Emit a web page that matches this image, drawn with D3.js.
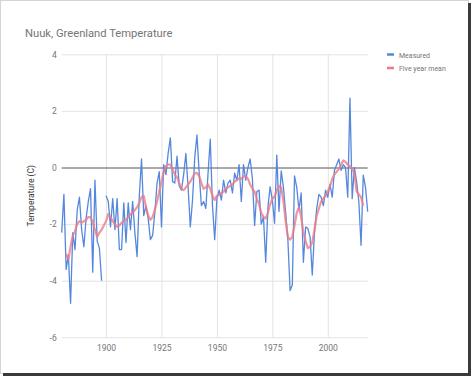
<!DOCTYPE html>
<html>
<head>
<meta charset="utf-8">
<script src="https://cdn.jsdelivr.net/npm/d3@7"></script>
<style>
  html, body { margin: 0; padding: 0; background: #fff; }
  svg { display: block; }
  text { font-family: Roboto, "Noto Sans", Arial, sans-serif; }
</style>
</head>
<body>
<svg id="chart" width="474" height="380"></svg>
<script>
// ---- data ----
const titleText = "Nuuk, Greenland Temperature";
const yAxisTitle = "Temperature (C)";
const seriesNames = ["Measured", "Five year mean"];
const measuredStartYear = 1880;
const measured = [
  -2.3, -0.95, -3.6, -3.1, -4.8, -2.3, -2.9, -1.5, -1.05, -2.2,
  -2.8, -1.8, -1.2, -0.75, -3.7, -0.45, -2.6, -2.85, -4.0, null,
  -1.0, -1.2, -2.1, -1.1, -2.2, -1.1, -2.9, -2.9, -1.25, -2.65,
  -1.25, -2.2, -1.2, -2.3, -3.15, -1.0, 0.3, -1.7, -1.35, -1.8,
  -2.55, -2.4, -1.6, -0.55, -0.15, -2.1, 0.1, -0.25, 0.5, 1.05,
  -0.5, -0.55, 0.4, -0.65, -0.8, -0.25, 0.5, -0.7, -2.1, -1.15,
  0.35, 1.15, -0.2, -1.35, -1.2, -1.45, -0.2, 1.0, -1.35, -2.55,
  -1.1, -0.8, -1.15, -0.45, -0.9, -0.55, -0.45, -0.9, -0.2, -0.45,
  0.1, -1.2, 0.1, -0.45, 0.0, 0.3, -0.4, -2.05, -0.85, -0.8,
  -2.0, -1.75, -3.35, -1.4, -0.68, -1.15, -1.97, 0.44, -1.55, -0.12,
  -0.7, -1.6, -2.55, -4.35, -4.15, -0.3, -0.7, -1.5, -0.9, -3.35,
  -2.1, -2.15, -2.45, -3.8, -2.3, -1.45, -0.95, -1.05, -1.35, -0.8,
  -1.05, -0.6, -1.05, -0.1, 0.1, 0.3, -0.1, 0.1, 0.0, -1.05,
  2.45, -1.1, 0.0, -0.5, -1.2, -2.75, -0.27, -0.7, -1.56
];
const meanStartYear = 1882;
const fiveYearMean = [
  -3.05, -3.25, -2.8, -2.4, -2.25, -2.0, -1.9, -1.95,
  -1.9, -1.85, -1.75, -1.75, -1.95, -2.2, -2.45, -2.3, -2.2, -2.05,
  -1.9, -1.65, -1.75, -1.9, -2.0, -2.1, -2.05, -1.95, -1.9, -1.85,
  -1.75, -1.65, -1.6, -1.5, -1.4, -1.25, -1.05, -1.0, -1.4, -1.7,
  -1.85, -1.75, -1.5, -1.2, -0.85, -0.5, -0.15, 0.05, 0.1, 0.1,
  -0.05, -0.25, -0.35, -0.55, -0.75, -0.8, -0.7, -0.6, -0.5, -0.35,
  -0.2, -0.2, -0.3, -0.55, -0.75, -0.7, -0.6, -0.75, -1.0, -1.15,
  -1.0, -0.97, -0.9, -0.85, -0.75, -0.7, -0.65, -0.6, -0.5, -0.45,
  -0.38, -0.4, -0.32, -0.3, -0.4, -0.6, -0.75, -0.85, -1.1, -1.3,
  -1.6, -1.75, -1.8, -1.6, -1.3, -1.1, -1.03, -0.8, -0.65, -0.7,
  -1.2, -1.9, -2.45, -2.55, -2.45, -2.05, -1.6, -1.4, -1.75, -2.3,
  -2.6, -2.85, -2.8, -2.65, -2.2, -1.7, -1.45, -1.2, -1.1, -1.0,
  -0.85, -0.65, -0.4, -0.25, -0.15, -0.05, 0.1, 0.25, 0.2, 0.1,
  0.05, -0.05, -0.2, -0.85, -0.95, -1.05, -1.35
];
const xTickYears = [1900, 1925, 1950, 1975, 2000];
const yTickValues = [-6, -4, -2, 0, 2, 4];
const xDomain = [1880, 2018];
const yDomain = [-6, 4];

// ---- layout / style ----
const plot = { left: 61.7, right: 367.7, top: 54.3, bottom: 337.3 };
const colors = { measured: "#5588dd", mean: "#ee7a86", grid: "#e3e3e3", zero: "#555", label: "#757575" };

const svg = d3.select("#chart");

// frame
svg.append("rect").attr("x", 0.5).attr("y", 0.5).attr("width", 468).attr("height", 373)
  .attr("fill", "#fff").attr("stroke", "#d5d5d5");
svg.append("rect").attr("x", 468).attr("y", 3).attr("width", 3).attr("height", 373).attr("fill", "#3a3a3a");
svg.append("rect").attr("x", 3).attr("y", 373).attr("width", 468).attr("height", 3).attr("fill", "#3a3a3a");

const x = d3.scaleLinear().domain(xDomain).range([plot.left, plot.right]);
const y = d3.scaleLinear().domain(yDomain).range([plot.bottom, plot.top]);

// gridlines via axes
const gx = svg.append("g").attr("transform", `translate(0,${plot.bottom})`)
  .call(d3.axisBottom(x).tickValues(xTickYears).tickFormat(d3.format("d"))
    .tickSize(-(plot.bottom - plot.top)).tickPadding(8));
gx.select(".domain").remove();
gx.selectAll("line").attr("stroke", colors.grid);
gx.selectAll("text").attr("fill", colors.label).attr("font-size", "8.5px")
  .attr("font-family", "Roboto, sans-serif");

const gy = svg.append("g").attr("transform", `translate(${plot.left},0)`)
  .call(d3.axisLeft(y).tickValues(yTickValues).tickFormat(d3.format("d"))
    .tickSize(-(plot.right - plot.left)).tickPadding(5));
gy.select(".domain").remove();
gy.selectAll("line").attr("stroke", d => d === 0 ? colors.zero : colors.grid);
gy.selectAll("text").attr("fill", colors.label).attr("font-size", "8.5px")
  .attr("font-family", "Roboto, sans-serif")
  .text(d => d < 0 ? "-" + Math.abs(d) : d);
gy.selectAll(".tick").filter(d => d === 0).raise();

// series data
const measuredData = measured.map((v, i) => ({ year: measuredStartYear + i, v }));
const meanData = fiveYearMean.map((v, i) => ({ year: meanStartYear + i, v }));

const line = d3.line().defined(d => d.v != null).x(d => x(d.year)).y(d => y(d.v));

svg.append("path").datum(measuredData).attr("d", line)
  .attr("fill", "none").attr("stroke", colors.measured).attr("stroke-width", 1.3)
  .attr("stroke-linejoin", "round");
svg.append("path").datum(meanData).attr("d", line)
  .attr("fill", "none").attr("stroke", colors.mean).attr("stroke-width", 2.2)
  .attr("stroke-opacity", 0.8).attr("stroke-linejoin", "round");

// title
svg.append("text").attr("x", 25).attr("y", 37).attr("fill", colors.label)
  .attr("font-size", "11.2px").text(titleText);

// y axis title
svg.append("text").attr("transform", `translate(34,${(plot.top + plot.bottom) / 2}) rotate(-90)`)
  .attr("text-anchor", "middle").attr("fill", "#333").attr("font-size", "8.5px").text(yAxisTitle);

// legend
const legendColors = [colors.measured, colors.mean];
const lg = svg.append("g");
seriesNames.forEach((name, i) => {
  const yy = 54.5 + i * 13.5;
  lg.append("rect").attr("x", 387).attr("y", yy - 1.25).attr("width", 7).attr("height", 2.5)
    .attr("fill", legendColors[i]);
  lg.append("text").attr("x", 399).attr("y", yy + 3).attr("fill", colors.label)
    .attr("font-size", "7px").text(name);
});
</script>
</body>
</html>
